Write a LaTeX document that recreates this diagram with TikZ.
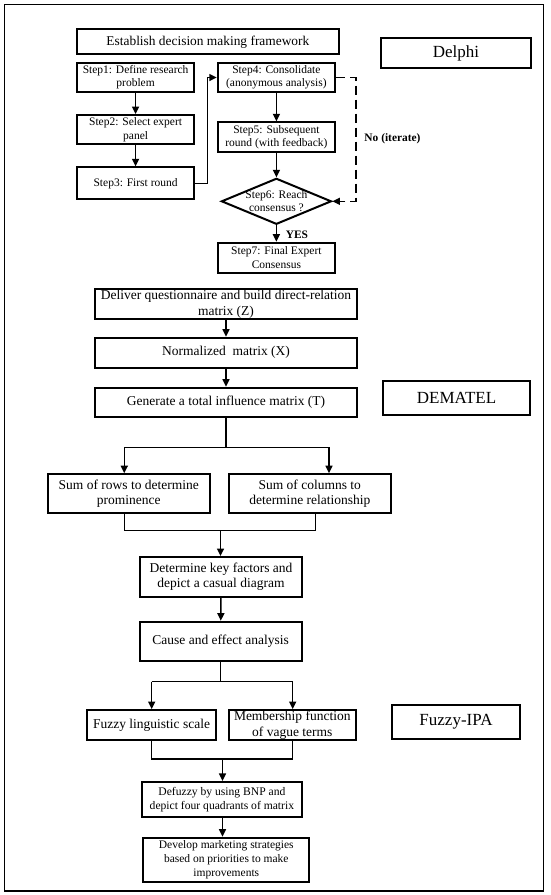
\documentclass[tikz,border=0pt]{standalone}
\usepackage{fontspec}
\setmainfont{Liberation Serif}
\usetikzlibrary{arrows.meta,shapes.geometric}
\begin{document}
\begin{tikzpicture}[x=1pt,y=-1pt,
  box/.style={draw,line width=2pt,rectangle,inner sep=0pt,align=center},
  fbig/.style={font=\fontsize{13.5}{15.5}\selectfont},
  fstep/.style={font=\fontsize{11.5}{13.3}\selectfont},
  fsmall/.style={font=\fontsize{11.6}{14.3}\selectfont},
  ftitle/.style={font=\fontsize{17}{20}\selectfont},
  lbl/.style={inner sep=0pt,font=\bfseries\fontsize{11.4}{13}\selectfont},
  conn/.style={line width=1.5pt},
  arr/.style={line width=1.5pt,-{Triangle[length=7.5pt,width=7pt]}},
  dsh/.style={line width=1.4pt,dash pattern=on 9pt off 5pt,-{Triangle[length=7.5pt,width=7pt]}}
]
\useasboundingbox (0,0) rectangle (550,895);
\draw[line width=1.4pt] (4.7,4.7) rectangle (543.5,891);

% Delphi part
\node[box,font=\fontsize{13.4}{15}\selectfont,minimum width=261.5pt,minimum height=25pt] (est) at (207.9,41.8) {Establish decision making framework};
\node[box,ftitle,minimum width=150.8pt,minimum height=29.4pt] (delphi) at (455.9,53) {Delphi};
\node[box,fstep,minimum width=117pt,minimum height=29.6pt] (s1) at (135.6,77.5) {Step1: Define research\\problem};
\node[box,fstep,minimum width=117pt,minimum height=29.3pt] (s2) at (135.6,129.7) {Step2: Select expert\\panel};
\node[box,fstep,minimum width=117pt,minimum height=32pt] (s3) at (135.6,183.3) {Step3: First round};
\node[box,fstep,minimum width=117.2pt,minimum height=29.6pt] (s4) at (276.4,77.5) {Step4: Consolidate\\(anonymous analysis)};
\node[box,fstep,minimum width=117.2pt,minimum height=29.7pt] (s5) at (276.4,137.2) {Step5: Subsequent\\round (with feedback)};
\node[draw,line width=2pt,diamond,inner sep=0pt,minimum width=110pt,minimum height=46pt,
      label={[fstep,align=center,inner sep=0pt]center:Step6: Reach\\consensus ?}] (dia) at (276.4,201.3) {};
\node[box,fstep,minimum width=117.2pt,minimum height=30pt] (s7) at (276.4,257.7) {Step7: Final Expert\\Consensus};
\node[lbl] (no) at (392.5,138.3) {No (iterate)};
\node[lbl] (yes) at (297,234.3) {YES};

\coordinate (k34) at (207.7,183.3);
\coordinate (kd) at (355.8,77.5);
\draw[arr] (s1) -- (s2);
\draw[arr] (s2) -- (s3);
\draw[arr] (s3.east) -- (k34) |- (s4.west);
\draw[arr] (s4) -- (s5);
\draw[arr] (s5.south) -- (dia.north);
\draw[arr] (dia.south) -- (s7.north);
\draw[dsh] (s4.east) -- (kd) |- (dia.east);

% DEMATEL part
\node[box,fbig,minimum width=262pt,minimum height=30pt] (del) at (226,304) {Deliver questionnaire and build direct-relation\\matrix (Z)};
\node[box,fbig,minimum width=262pt,minimum height=30pt] (nor) at (226,352.7) {Normalized\ \ matrix (X)};
\node[box,fbig,minimum width=262pt,minimum height=29.6pt] (gen) at (226,402.5) {Generate a total influence matrix (T)};
\node[box,ftitle,minimum width=147pt,minimum height=34pt] (dem) at (456.5,398) {DEMATEL};
\node[box,fbig,minimum width=162.5pt,minimum height=38.8pt] (rows) at (128.8,493.6) {Sum of rows to determine\\prominence};
\node[box,fbig,minimum width=162.3pt,minimum height=38.8pt] (cols) at (309.8,493.6) {Sum of columns to\\determine relationship};
\node[box,fbig,minimum width=162pt,minimum height=39.5pt] (det) at (221,576.8) {Determine key factors and\\depict a casual diagram};
\node[box,fbig,minimum width=161.7pt,minimum height=39pt] (cause) at (220.7,641.2) {Cause and effect analysis};

\draw[arr] (del) -- (nor);
\draw[arr] (nor) -- (gen);
\coordinate (gs) at (226,447.3);
\coordinate (gl) at (124.3,447.3);
\coordinate (gr) at (329,447.3);
\draw[conn] (gen.south) -- (gs);
\draw[conn] (gl) -- (gr);
\draw[arr] (gl) -- (gl |- rows.north);
\draw[arr] (gr) -- (gr |- cols.north);
\coordinate (jl) at (124.3,530.7);
\coordinate (jr) at (315.4,530.7);
\coordinate (jm) at (220.5,530.7);
\draw[conn] (jl |- rows.south) -- (jl) -- (jr) -- (jr |- cols.south);
\draw[arr] (jm) -- (jm |- det.north);
\draw[arr] (det) -- (cause);

% Fuzzy-IPA part
\node[box,fbig,minimum width=128.4pt,minimum height=30pt] (fl) at (151.5,725) {Fuzzy linguistic scale};
\node[box,fbig,minimum width=127.5pt,minimum height=30pt] (mf) at (292.3,725) {Membership function\\of vague terms};
\node[box,ftitle,minimum width=128.4pt,minimum height=34.3pt] (fipa) at (456,722.2) {Fuzzy-IPA};
\node[box,fsmall,minimum width=160.7pt,minimum height=34.7pt] (def) at (221.9,799.3) {Defuzzy by using BNP and\\depict four quadrants of matrix};
\node[box,font=\fontsize{11.5}{14}\selectfont,minimum width=165.9pt,minimum height=44pt] (dev) at (226.3,859.7) {Develop marketing strategies\\based on priorities to make\\improvements};

\coordinate (cs) at (220.7,681.7);
\coordinate (cl) at (151.7,681.7);
\coordinate (cr) at (292.7,681.7);
\draw[conn] (cause.south) -- (cs);
\draw[conn] (cl) -- (cr);
\draw[arr] (cl) -- (cl |- fl.north);
\draw[arr] (cr) -- (cr |- mf.north);
\coordinate (fjl) at (151.7,759);
\coordinate (fjr) at (292.7,759);
\coordinate (fjm) at (222.5,759);
\draw[conn] (fjl |- fl.south) -- (fjl) -- (fjr) -- (fjr |- mf.south);
\draw[arr] (fjm) -- (fjm |- def.north);
\draw[arr] (def.south -| fjm) -- (fjm |- dev.north);
\end{tikzpicture}
\end{document}
